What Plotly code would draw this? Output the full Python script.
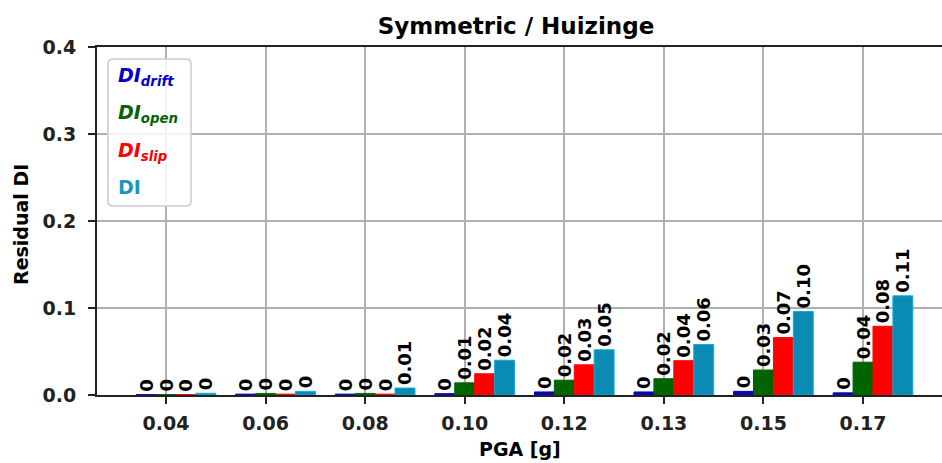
import plotly.graph_objects as go

# PGA levels (categories on the x axis)
pga_labels = ["0.04", "0.06", "0.08", "0.10", "0.12", "0.13", "0.15", "0.17"]

# Residual damage index components per PGA level
di_drift = [0.0004, 0.001, 0.001, 0.0015, 0.0035, 0.0035, 0.0042, 0.0025]
di_open = [0.0005, 0.0018, 0.0018, 0.014, 0.017, 0.0187, 0.0287, 0.0377]
di_slip = [0.0004, 0.001, 0.001, 0.0244, 0.0347, 0.0394, 0.066, 0.079]
di_total = [0.002, 0.0042, 0.008, 0.040, 0.052, 0.058, 0.096, 0.114]

FONT = "DejaVu Sans"
W, H = 942, 463
L, R, T, B = 97, 0, 47, 68
PW, PH = W - L - R, H - T - B


def px_x(px):
    return (px - L) / PW


def px_y(py):
    return (H - B - py) / PH


def fmt(v):
    return "0" if round(v, 2) == 0 else f"{v:.2f}"


series = [
    ("DI_drift", di_drift, "#0a0aa8", "#0000cd"),
    ("DI_open", di_open, "#006400", "#006400"),
    ("DI_slip", di_slip, "#ff0000", "#ff0000"),
    ("DI", di_total, "#0a8bb3", "#16a9d0"),
]

bar_w = 0.2
fig = go.Figure()
for i, (name, vals, fill, edge) in enumerate(series):
    fig.add_trace(go.Bar(
        x=pga_labels,
        y=vals,
        name=name,
        width=bar_w,
        offset=(i - 1) * bar_w - bar_w / 2,
        marker=dict(color=fill, line=dict(color=edge, width=1)),
        text=[fmt(v) for v in vals],
        textposition="outside",
        textangle=-90,
        constraintext="none",
        cliponaxis=False,
        textfont=dict(family=FONT, size=18, color="black", weight="bold"),
        showlegend=False,
    ))

axis_common = dict(
    showgrid=True,
    gridcolor="#b0b0b0",
    gridwidth=1.6,
    showline=True,
    linecolor="#222222",
    linewidth=2,
    ticks="outside",
    ticklen=7,
    tickwidth=2,
    tickcolor="#222222",
    tickfont=dict(family=FONT, size=19, color="#222222", weight="bold"),
    layer="above traces",
    zeroline=False,
)

fig.update_layout(
    width=W,
    height=H,
    margin=dict(l=L, r=R, t=T, b=B),
    paper_bgcolor="white",
    plot_bgcolor="white",
    barmode="overlay",
    title=dict(
        text="Symmetric / Huizinge",
        font=dict(family=FONT, size=23, color="black", weight="bold"),
        x=516 / W, xref="container", xanchor="center",
        y=1 - 26 / H, yref="container", yanchor="middle",
    ),
    xaxis=dict(
        type="category",
        range=[-0.693, 7.793],
        mirror=True,
        ticklabelstandoff=3,
        **axis_common,
    ),
    yaxis=dict(
        range=[0, 0.4],
        tickvals=[0, 0.1, 0.2, 0.3, 0.4],
        tickformat=".1f",
        mirror=False,
        ticklabelstandoff=8,
        **axis_common,
    ),
)

# Axis titles
fig.add_annotation(
    text="Residual DI", xref="paper", yref="paper",
    x=px_x(21), y=px_y(225), xanchor="center", yanchor="middle",
    textangle=-90, showarrow=False,
    font=dict(family=FONT, size=19, color="black", weight="bold"),
)
fig.add_annotation(
    text="PGA [g]", xref="paper", yref="paper",
    x=px_x(520), y=px_y(449), xanchor="center", yanchor="middle",
    showarrow=False,
    font=dict(family=FONT, size=19, color="black", weight="bold"),
)

# Legend frame with rounded corners
x0, x1 = px_x(108), px_x(191)
y0, y1 = px_y(206), px_y(59)
rx, ry = 5 / PW, 5 / PH
path = (
    f"M {x0 + rx},{y0} L {x1 - rx},{y0} Q {x1},{y0} {x1},{y0 + ry} "
    f"L {x1},{y1 - ry} Q {x1},{y1} {x1 - rx},{y1} "
    f"L {x0 + rx},{y1} Q {x0},{y1} {x0},{y1 - ry} "
    f"L {x0},{y0 + ry} Q {x0},{y0} {x0 + rx},{y0} Z"
)
fig.add_shape(
    type="path", path=path, xref="paper", yref="paper",
    line=dict(color="#cccccc", width=1.5),
    fillcolor="rgba(255,255,255,0.85)", layer="above",
)

# Legend entries as coloured text
legend_items = [
    ("<i>DI</i><sub><i>drift</i></sub>", "#0000cd", 77),
    ("<i>DI</i><sub><i>open</i></sub>", "#006400", 114),
    ("<i>DI</i><sub><i>slip</i></sub>", "#ff0000", 151),
    ("DI", "#1697bf", 187),
]
for txt, col, ypx in legend_items:
    fig.add_annotation(
        text=txt, xref="paper", yref="paper",
        x=px_x(116), y=px_y(ypx), xanchor="left", yanchor="middle",
        showarrow=False,
        font=dict(family=FONT, size=19, color=col, weight="bold"),
    )

fig.write_html("out.html")
